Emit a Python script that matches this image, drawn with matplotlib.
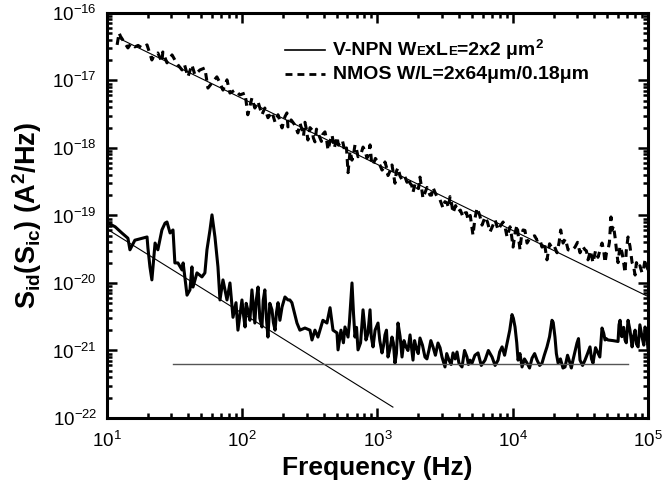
import matplotlib
matplotlib.use('Agg')
import matplotlib.pyplot as plt
import numpy as np
from matplotlib.ticker import LogLocator, NullFormatter

plt.rcParams.update({
    'font.family': ['Liberation Sans', 'DejaVu Sans'],
    'mathtext.fontset': 'custom',
    'mathtext.rm': 'Liberation Sans',
    'mathtext.bf': 'Liberation Sans:bold',
    'mathtext.it': 'Liberation Sans:italic',
    'mathtext.sf': 'Liberation Sans',
    'mathtext.default': 'regular',
    'axes.unicode_minus': False,
})

# ---- V-NPN measured noise (frequency in Hz, PSD in units of 1e-21 A^2/Hz)
npn_f = [10.2, 11.5, 12.9, 14.3, 14.8, 16.1, 19.8, 20.1, 20.8, 21.5, 22.7, 23.8, 25.5, 26.9,
         27.8, 29.3, 30.8, 31.8, 33.5, 35.9, 36.6, 39.1, 41.1, 42.5, 43.3, 46.3, 50.4, 53.0,
         54.9, 57.8, 59.8, 62.9, 66.2, 68.5, 72.1, 77.2, 81.2, 85.5, 90.0, 93.0, 99.6, 102,
         105, 107, 110, 114, 118, 121, 124, 127, 131, 135, 140, 143, 147, 151, 155, 160,
         166, 170, 175, 179, 184, 190, 197, 207, 218, 225, 233, 254,
         267, 291, 317, 328, 345, 363, 395, 423, 446, 469, 502, 511, 537, 560, 575, 606, 620,
         648, 665, 682, 700, 718, 750, 782, 800, 822, 850, 881, 900, 927, 960, 1009, 1040,
         1080, 1110, 1136, 1165, 1196, 1240, 1280, 1310, 1347, 1380, 1418, 1470, 1518, 1570,
         1625, 1680, 1740, 1830, 1880, 1927, 2000, 2061, 2150, 2244, 2320, 2403, 2480, 2573,
         2680, 2801, 2900, 2998, 3155, 3250, 3378, 3500, 3617, 3750, 3872, 4000, 4215, 4400,
         4589, 4700, 4830, 5000, 5250, 5536, 5850, 6237, 6600, 7027, 7400, 7786, 8000, 8335,
         8700, 9074, 9500, 9870, 10100, 10390, 10700, 10940, 11300, 11710, 12200, 12750,
         13300, 13880, 14500, 15110, 15800, 16450, 17100, 17900, 18700, 19490, 19900, 20510,
         21000, 21630, 22500, 23500, 24330, 25400, 26480, 27100, 27860, 28800, 29830, 30600,
         31400, 32800, 34190, 35700, 37220, 38200, 39170, 40900, 42640, 44000, 45680, 47000,
         48080, 49000, 50600, 55000, 59980, 61000, 62080, 64000, 66000, 67590, 69000, 71120,
         73500, 76200, 78000, 80200, 82000, 84400, 87000, 90300, 93000, 95000, 97500, 100000]
npn_S = [77, 68, 55, 46, 31, 43, 48, 33, 17.3, 11.1, 39, 31, 61, 77,
         80, 55, 61, 19.8, 19.8, 15.6, 19.8, 6.6, 7.9, 17.3, 8.7, 14.1, 12.3, 14.1,
         31, 61, 102, 48, 17.3, 5.6, 11.1, 5.6, 10, 3.1, 5.1, 2.0, 5.6, 3.5,
         2.23, 5.0, 4.0, 2.8, 7.9, 4.5, 2.55, 5.5, 8.7, 3.0, 2.23, 5.5, 7.9, 3.0, 1.58, 5.0,
         4.0, 2.6, 2.0, 3.6, 5.1, 2.8, 4.4, 6.2, 5.6, 5.6, 5.1, 2.55,
         2.0, 2.15, 2.0, 1.43, 2.0, 1.58, 2.8, 2.55, 4.3, 2.0, 1.82, 1.02, 2.0, 1.3, 2.23, 1.58, 2.6,
         10, 3.5, 1.58, 2.2, 1.02, 1.3, 4.0, 2.5, 1.43, 1.8, 4.0, 1.6, 1.13, 2.0, 2.55, 1.4,
         0.92, 1.2, 1.7, 2.0, 0.8, 1.1, 1.58, 1.3, 0.65, 0.9, 2.55, 1.6, 0.8, 1.4,
         1.13, 1.0, 1.7, 0.72, 1.4, 1.13, 0.9, 1.53, 1.2, 0.8, 0.75, 1.02, 1.4, 1.13,
         0.85, 1.29, 1.1, 0.8, 0.57, 0.9, 0.72, 0.62, 0.92, 0.75, 0.95, 0.65, 0.57, 1.0,
         0.8, 0.62, 0.72, 0.65, 0.85, 0.92, 0.6, 0.72, 1.0, 0.8, 0.6, 0.72, 0.95, 1.13,
         0.85, 1.29, 2.0, 3.4, 3.0, 2.23, 1.3, 0.72, 0.9, 0.57, 0.75, 0.65,
         0.55, 0.77, 0.9, 0.72, 0.6, 0.65, 0.85, 1.13, 1.6, 2.8, 2.6, 1.58,
         0.9, 0.65, 0.75, 0.55, 0.57, 0.85, 0.65, 0.55, 0.72, 0.95, 1.29, 1.5,
         0.72, 0.6, 0.72, 0.9, 1.13, 0.75, 0.65, 1.1, 0.92, 0.8, 2.15, 1.8,
         1.43, 1.5, 1.43, 1.40, 1.36, 2.4, 2.8, 1.6, 2.2, 1.43, 1.3, 2.8,
         2.0, 1.13, 1.6, 2.0, 1.25, 1.13, 2.4, 1.58, 1.2, 2.23, 1.8, 1.02]
npn_unit = 1e-21

# ---- NMOS measured noise (frequency in Hz, PSD in units of 1e-18 A^2/Hz)
nmos_f = [11.9, 12.3, 12.6, 14.3, 15.0, 16.1, 17.0, 18.2, 19.8, 21.5, 22.2, 23.8, 25.5, 25.9,
          27.8, 30.3, 31.8, 33.5, 35.9, 37.5, 39.7, 42.5, 44.7, 48.7, 53.0, 55.8, 59.8, 65.0,
          68.5, 72.1, 77.2, 81.2, 88.4, 96.1, 105, 110, 118, 124, 131, 140, 147, 155, 166,
          175, 184, 197, 207, 214, 218, 245, 258, 277, 291, 306, 328, 345, 363, 409, 431,
          461, 502, 528, 575, 606, 648, 682, 718, 782, 836, 881, 927, 1009, 1080, 1136,
          1196, 1280, 1347, 1418, 1518, 1652, 1740, 1830, 1960, 2061, 2168, 2322, 2444,
          2573, 2754, 3050, 3266, 3436, 3617, 3938, 4285, 4437, 4667, 5081, 5444, 5929,
          6237, 6792, 7396, 7786, 8476, 9074, 9542, 10050, 10750, 11310, 11910, 12750,
          13880, 15110, 16450, 17900, 19490, 21230, 22600, 23530, 25630, 28860, 31400,
          34190, 35990, 39170, 42640, 45680, 48080, 50600, 53200, 54170, 57000, 59980,
          64250, 67590, 71120, 76200, 80200, 84400, 90300, 95000, 100000]
nmos_S = [33.6, 50.6, 45, 30.3, 35, 31.4, 33, 30.3, 33.6, 20.1, 23, 25.5, 18.8, 26.4,
          18.2, 23.9, 20.1, 17.0, 14.3, 17, 11.3, 17.0, 12.1, 14.3, 15.3, 7.7, 9.2, 11.3,
          9.2, 7.2, 10.2, 6.5, 7.2, 6.1, 6.5, 3.1, 5.5, 3.9, 4.8, 3.1, 3.9, 2.8, 3.4,
          2.4, 3.1, 1.98, 2.9, 3.3, 2.05, 2.19, 1.67, 1.85, 2.4, 1.31, 1.85, 1.23, 1.67, 1.73, 0.93,
          1.56, 1.46, 1.19, 0.87, 0.43, 0.66, 1.11, 0.74, 1.03, 0.71, 1.11, 0.56, 0.62, 0.47, 0.62,
          0.39, 0.56, 0.30, 0.51, 0.34, 0.31, 0.30, 0.22, 0.26, 0.37, 0.18, 0.26, 0.20,
          0.26, 0.19, 0.129, 0.153, 0.19, 0.109, 0.113, 0.095, 0.109, 0.086, 0.051, 0.129, 0.072,
          0.095, 0.057, 0.086, 0.061, 0.080, 0.048, 0.068, 0.034, 0.072, 0.031, 0.061, 0.039,
          0.048, 0.043, 0.034, 0.022, 0.033, 0.028, 0.061, 0.039, 0.031, 0.034, 0.028,
          0.031, 0.022, 0.020, 0.024, 0.039, 0.020, 0.031, 0.095, 0.061, 0.048, 0.020,
          0.028, 0.0141, 0.048, 0.020, 0.0131, 0.0167, 0.0141, 0.022, 0.0156]
# additional NMOS readings between the points above
nmos_f_extra = [230, 268, 284, 298, 317, 336, 354, 385, 395, 420, 446, 480, 515, 550, 590,
                627, 665, 700, 750, 810, 860, 905, 965, 1045, 1110, 1165, 1240, 1310, 1380,
                1470, 1590, 1700, 1790, 1900, 2010, 2110, 2250, 2380, 2510, 2660, 2900,
                3150, 3350, 3530, 3780, 4100, 4550, 4850, 5250, 5700, 6500, 7100, 8100,
                8800, 9800, 10400, 11600, 12300, 13300, 14500, 15800, 17100, 18700, 20300,
                22000, 24500, 27200, 30100, 32800, 35000, 37500, 40900, 44000, 47000, 49300,
                51800, 55500, 58500, 62000, 66000, 69000, 73500, 78000, 82000, 87000, 92500,
                97500]
nmos_S_extra = [2.6, 2.3, 1.5, 1.9, 2.0, 1.4, 1.9, 1.25, 1.6, 1.35, 1.25, 1.0, 1.1, 1.3, 1.0,
                0.9, 0.8, 0.95, 0.78, 0.9, 0.8, 0.6, 0.7, 0.55, 0.5, 0.52, 0.46, 0.42, 0.45,
                0.38, 0.38, 0.36, 0.28, 0.3, 0.25, 0.27, 0.22, 0.23, 0.2, 0.22, 0.17,
                0.16, 0.13, 0.15, 0.14, 0.12, 0.11, 0.1, 0.09, 0.1, 0.08, 0.07, 0.07,
                0.065, 0.05, 0.055, 0.05, 0.06, 0.045, 0.05, 0.045, 0.04, 0.038, 0.035,
                0.04, 0.045, 0.03, 0.04, 0.035, 0.03, 0.03, 0.03, 0.03, 0.03, 0.028,
                0.04, 0.07, 0.03, 0.035, 0.02, 0.03, 0.035, 0.018, 0.02, 0.018, 0.016,
                0.018]
nmos_unit = 1e-18

# ---- fitted / reference lines
npn_fit_f = [10, 1300]
npn_fit_S = [6.3e-20, 1.45e-22]
npn_floor_f = [31, 71000]
npn_floor_S = [6.3e-22, 6.3e-22]
nmos_fit_f = [12, 1e5]
nmos_fit_S = [4.3e-17, 6.3e-21]

legend_npn = [("V-NPN W", 14), ("E", 9.5), ("x", 14), ("L", 14), ("E", 9.5), ("=2x2 \u03bcm", 14), ("2", 9.5)]
legend_nmos = [("NMOS W/L=2x64\u03bcm/0.18\u03bcm", 14)]

fig = plt.figure(figsize=(6.64, 4.91), dpi=100)
ax = fig.add_axes([0.161, 0.1487, 0.815, 0.825])

nf = np.concatenate([nmos_f, nmos_f_extra])
ns = np.concatenate([nmos_S, nmos_S_extra]) * nmos_unit
order = np.argsort(nf)

ax.plot(npn_f, np.array(npn_S) * npn_unit, color='black', lw=2.2)
ax.plot(nf[order], ns[order], color='black', lw=2.2, ls=(0, (2.5, 1.8)))
ax.plot(npn_fit_f, npn_fit_S, color='black', lw=0.8)
ax.plot(nmos_fit_f, nmos_fit_S, color='black', lw=0.8)
ax.plot(npn_floor_f, npn_floor_S, color='#555555', lw=1.0)

ax.set_xscale('log')
ax.set_yscale('log')
ax.set_xlim(10, 1e5)
ax.set_ylim(1e-22, 1e-16)
ax.xaxis.set_major_locator(LogLocator(base=10, numticks=10))
ax.yaxis.set_major_locator(LogLocator(base=10, numticks=10))
ax.xaxis.set_minor_locator(LogLocator(base=10, subs=np.arange(2, 10), numticks=20))
ax.yaxis.set_minor_locator(LogLocator(base=10, subs=np.arange(2, 10), numticks=20))
ax.xaxis.set_minor_formatter(NullFormatter())
ax.yaxis.set_minor_formatter(NullFormatter())
ax.tick_params(which='both', direction='in', top=True, right=True, width=1.8, labelsize=13.5)
ax.tick_params(which='major', length=7)
ax.tick_params(which='minor', length=3.5)
ax.tick_params(axis='x', which='major', pad=9)
ax.tick_params(axis='y', which='major', pad=7)
for s in ax.spines.values():
    s.set_linewidth(2.2)

ax.set_xlabel('Frequency (Hz)', fontsize=19, fontweight='bold', labelpad=4)
ax.set_ylabel(r'$\mathbf{S_{id}(S_{ic})\ (A^{2}/Hz)}$', fontsize=19.5, labelpad=6)

# legend (manual, to reproduce the small-caps subscript style)
fig.canvas.draw()
renderer = fig.canvas.get_renderer()
W, H = fig.get_size_inches() * fig.dpi

def legend_row(y_px, pieces, dashed):
    yf = 1 - y_px / H
    ls = (0, (2.5, 1.8)) if dashed else '-'
    fig.add_artist(plt.Line2D([285 / W, 325 / W], [yf + 5 / H, yf + 5 / H], color='black',
                              lw=2.0 if dashed else 1.2, ls=ls))
    x = 333
    for s, size in pieces:
        dy = 7 if (s == "2" and size < 14) else 0
        t = fig.text(x / W, yf + dy / H, s, fontsize=size, fontweight='bold',
                     va='baseline', ha='left')
        x += t.get_window_extent(renderer).width

legend_row(55, legend_npn, False)
legend_row(79, legend_nmos, True)

fig.savefig('out.png', dpi=100)
